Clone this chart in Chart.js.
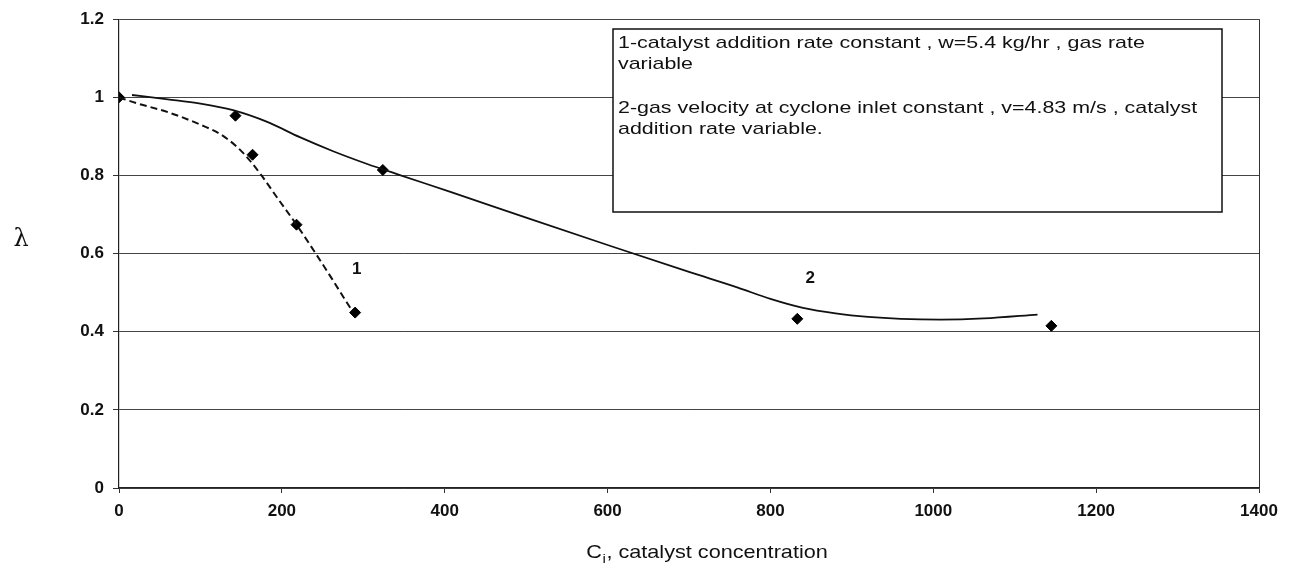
<!DOCTYPE html>
<html><head><meta charset="utf-8">
<script src="https://cdn.jsdelivr.net/npm/chart.js@4.4.1/dist/chart.umd.min.js"></script>
<style>html,body{margin:0;padding:0;background:#fff;}canvas{display:block;}</style>
</head><body>
<canvas id="c" width="1291" height="565"></canvas>
<script>
// measured data points (diamonds)
const pointsX = [0, 143, 164, 218, 290, 324, 833, 1145];
const pointsY = [1.0, 0.953, 0.853, 0.674, 0.449, 0.814, 0.433, 0.415];
// curve 1 (dashed)
const curve1X = [0, 20, 60, 100, 125, 145, 160, 175, 196, 218, 241, 262, 280, 286];
const curve1Y = [1.0, 0.986, 0.962, 0.930, 0.905, 0.873, 0.840, 0.800, 0.738, 0.674, 0.602, 0.534, 0.474, 0.455];
// curve 2 (solid)
const curve2X = [16, 60, 100, 140, 182, 222, 263, 304, 345, 407, 500, 600, 700, 760, 800, 840, 880, 920, 960, 1009, 1062, 1128];
const curve2Y = [1.006, 0.995, 0.984, 0.967, 0.937, 0.898, 0.862, 0.830, 0.801, 0.758, 0.692, 0.622, 0.553, 0.513, 0.484, 0.461, 0.447, 0.438, 0.433, 0.431, 0.434, 0.444];
// tick labels
const xTicks = [0, 200, 400, 600, 800, 1000, 1200, 1400];
const xTickLabels = ['0', '200', '400', '600', '800', '1000', '1200', '1400'];
const yTicks = [0, 0.2, 0.4, 0.6, 0.8, 1.0, 1.2];
const yTickLabels = ['0', '0.2', '0.4', '0.6', '0.8', '1', '1.2'];
// curve labels
const curveLabels = ['1', '2'];
const curveLabelX = [292, 849];
const curveLabelY = [0.56, 0.537];
// legend text
const legendLines = [
  '1-catalyst addition rate constant , w=5.4 kg/hr , gas rate',
  'variable',
  '',
  '2-gas velocity at cyclone inlet constant , v=4.83 m/s , catalyst',
  'addition rate variable.'
];
const xTitleMain = 'C', xTitleSub = 'i', xTitleRest = ', catalyst concentration';
const yTitle = 'λ';

const FONT = '"Liberation Sans", Arial, sans-serif';
const STRETCH = 1.26;

const toXY = (xs, ys) => xs.map((x, i) => ({x: x, y: ys[i]}));

const extras = {
  id: 'extras',
  afterDatasetsDraw(chart) {
    const ctx = chart.ctx;
    // legend box
    const bx = 613, by = 29, bw = 609, bh = 183;
    ctx.save();
    ctx.fillStyle = '#fff';
    ctx.fillRect(bx, by, bw, bh);
    ctx.strokeStyle = '#111';
    ctx.lineWidth = 1.5;
    ctx.strokeRect(bx, by, bw, bh);
    ctx.fillStyle = '#111';
    ctx.font = '17px ' + FONT;
    ctx.textBaseline = 'alphabetic';
    const baselines = [48, 69, 90, 113, 134];
    legendLines.forEach((t, i) => {
      if (!t) return;
      ctx.save();
      ctx.translate(618, baselines[i]);
      ctx.scale(STRETCH, 1);
      ctx.fillText(t, 0, 0);
      ctx.restore();
    });
    ctx.restore();

    // curve labels positioned via scales
    const xs = chart.scales.x, ys = chart.scales.y;
    ctx.save();
    ctx.fillStyle = '#111';
    ctx.font = 'bold 17px ' + FONT;
    ctx.textAlign = 'center';
    ctx.textBaseline = 'middle';
    curveLabels.forEach((t, i) => {
      ctx.fillText(t, xs.getPixelForValue(curveLabelX[i]), ys.getPixelForValue(curveLabelY[i]));
    });
    ctx.restore();
  },
  afterDraw(chart) {
    const ctx = chart.ctx;
    const area = chart.chartArea;
    ctx.save();
    ctx.fillStyle = '#111';
    // x title with subscript
    const sx = 1.17;
    ctx.font = '18.5px ' + FONT;
    const wMain = ctx.measureText(xTitleMain).width;
    const wRest = ctx.measureText(xTitleRest).width;
    ctx.font = '13px ' + FONT;
    const wSub = ctx.measureText(xTitleSub).width;
    const total = (wMain + wSub + 1 + wRest) * sx;
    const cx = (area.left + area.right) / 2 + 18;
    const base = 558;
    ctx.translate(cx - total / 2, base);
    ctx.scale(sx, 1);
    ctx.textBaseline = 'alphabetic';
    ctx.font = '18.5px ' + FONT;
    ctx.fillText(xTitleMain, 0, 0);
    ctx.font = '13px ' + FONT;
    ctx.fillText(xTitleSub, wMain + 0.5, 5);
    ctx.font = '18.5px ' + FONT;
    ctx.fillText(xTitleRest, wMain + wSub + 1, 0);
    ctx.restore();

    // y title
    ctx.save();
    ctx.fillStyle = '#111';
    ctx.font = '24px "DejaVu Serif", "Liberation Serif", serif';
    ctx.textAlign = 'center';
    ctx.textBaseline = 'middle';
    ctx.fillText(yTitle, 21, 240);
    ctx.restore();
  }
};

new Chart(document.getElementById('c'), {
  type: 'scatter',
  data: {
    datasets: [
      {
        label: 'curve 1',
        data: toXY(curve1X, curve1Y),
        showLine: true,
        borderColor: '#111',
        borderWidth: 2,
        borderDash: [7, 4],
        pointRadius: 0,
        cubicInterpolationMode: 'monotone',
        fill: false
      },
      {
        label: 'curve 2',
        data: toXY(curve2X, curve2Y),
        showLine: true,
        borderColor: '#111',
        borderWidth: 1.8,
        pointRadius: 0,
        cubicInterpolationMode: 'monotone',
        fill: false
      },
      {
        label: 'measured',
        data: toXY(pointsX, pointsY),
        showLine: false,
        pointStyle: 'rectRot',
        pointRadius: 5.5,
        pointBackgroundColor: '#000',
        pointBorderColor: '#000',
        pointBorderWidth: 1
      }
    ]
  },
  options: {
    responsive: false,
    animation: false,
    devicePixelRatio: 1,
    layout: { padding: { left: 0, right: 32, top: 17, bottom: 0 } },
    plugins: { legend: { display: false }, tooltip: { enabled: false } },
    scales: {
      x: {
        type: 'linear',
        min: 0, max: 1400,
        afterBuildTicks: (s) => { s.ticks = xTicks.map(v => ({value: v})); },
        afterFit: (s) => { s.height = 77; },
        ticks: {
          callback: (v, i) => xTickLabels[i],
          color: '#111',
          font: { family: FONT, size: 17, weight: 'bold' },
          padding: 8,
          maxRotation: 0
        },
        grid: {
          color: (c) => (c.tick && c.tick.value === 1400) ? '#333' : 'rgba(0,0,0,0)',
          tickColor: '#333',
          tickLength: 5,
          lineWidth: 1
        },
        border: { display: true, color: '#222', width: 1.2 }
      },
      y: {
        type: 'linear',
        min: 0, max: 1.2,
        afterBuildTicks: (s) => { s.ticks = yTicks.map(v => ({value: v})); },
        afterFit: (s) => { s.width = 119; },
        ticks: {
          callback: (v, i) => yTickLabels[i],
          color: '#111',
          font: { family: FONT, size: 17, weight: 'bold' },
          padding: 9
        },
        grid: {
          color: '#444',
          tickColor: '#333',
          tickLength: 6,
          lineWidth: 1
        },
        border: { display: true, color: '#222', width: 1.2 }
      }
    }
  },
  plugins: [extras]
});
</script>
</body></html>
